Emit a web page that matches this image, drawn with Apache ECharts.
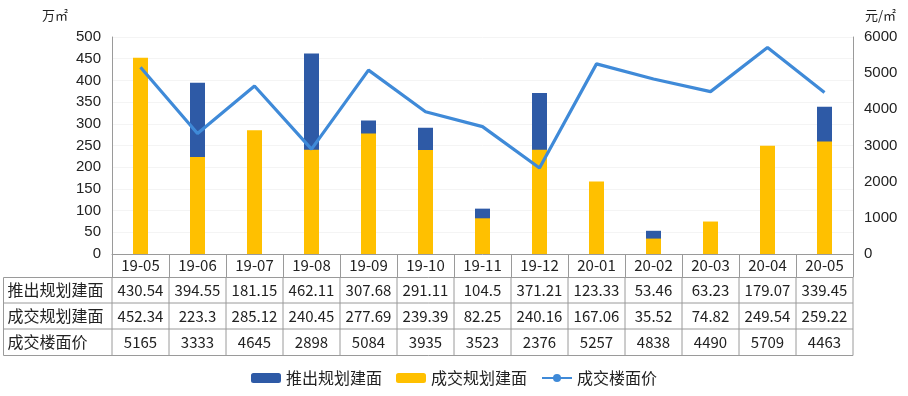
<!DOCTYPE html>
<html><head><meta charset="utf-8">
<script src="https://cdn.jsdelivr.net/npm/echarts@6/dist/echarts.min.js"></script>
<style>html,body{margin:0;padding:0;background:#fff}#c{width:908px;height:396px}</style>
</head><body><div id="c"></div>
<script>
const categories = ['19-05','19-06','19-07','19-08','19-09','19-10','19-11','19-12','20-01','20-02','20-03','20-04','20-05'];
const launched = [430.54,394.55,181.15,462.11,307.68,291.11,104.5,371.21,123.33,53.46,63.23,179.07,339.45];
const launchedText = ['430.54','394.55','181.15','462.11','307.68','291.11','104.5','371.21','123.33','53.46','63.23','179.07','339.45'];
const traded = [452.34,223.3,285.12,240.45,277.69,239.39,82.25,240.16,167.06,35.52,74.82,249.54,259.22];
const tradedText = ['452.34','223.3','285.12','240.45','277.69','239.39','82.25','240.16','167.06','35.52','74.82','249.54','259.22'];
const price = [5165,3333,4645,2898,5084,3935,3523,2376,5257,4838,4490,5709,4463];
const seriesNames = ['推出规划建面','成交规划建面','成交楼面价'];
const leftUnit = '万㎡';
const rightUnit = '元/㎡';

const chart = echarts.init(document.getElementById('c'));
const gridTop = 37, gridBottomY = 254, gridLeft = 112, gridRight = 853;
const rowLines = [277.5, 303, 329, 355.5];
const tableLeft = 3.5;
const lineColor = '#9a9a9a';
const cjk = '"Noto Sans CJK SC", sans-serif';
const sans = '"Liberation Sans", Arial, sans-serif';

chart.setOption({
  animation: false,
  grid: {left: gridLeft, right: 908 - gridRight, top: gridTop, bottom: 396 - gridBottomY, containLabel: false},
  legend: {
    left: 'center', top: 365, itemWidth: 30, itemHeight: 10, itemGap: 14,
    textStyle: {fontFamily: cjk, fontSize: 16, color: '#222'},
    data: seriesNames
  },
  xAxis: {
    type: 'category', data: categories,
    axisLine: {lineStyle: {color: lineColor}},
    axisTick: {show: true, interval: 0, length: 23.5, lineStyle: {color: lineColor}},
    axisLabel: {interval: 0, fontFamily: cjk, fontSize: 15, color: '#222', margin: 4}
  },
  yAxis: [{
    type: 'value', min: 0, max: 500, interval: 50,
    name: leftUnit, nameLocation: 'end', nameGap: 0,
    nameTextStyle: {fontFamily: cjk, fontSize: 13, color: '#222', align: 'right', verticalAlign: 'bottom', padding: [0, 44, 15, 0]},
    axisLine: {show: true, lineStyle: {color: lineColor}},
    axisTick: {show: false},
    axisLabel: {fontFamily: sans, fontSize: 15, color: '#222', margin: 11, formatter: v => String(v)},
    splitLine: {show: true, lineStyle: {color: '#f4f4f4'}}
  }, {
    type: 'value', min: 0, max: 6000, interval: 1000,
    name: rightUnit, nameLocation: 'end', nameGap: 0,
    nameTextStyle: {fontFamily: cjk, fontSize: 13, color: '#222', align: 'left', verticalAlign: 'bottom', padding: [0, 0, 15, 12]},
    axisLine: {show: true, lineStyle: {color: lineColor}},
    axisTick: {show: false},
    axisLabel: {fontFamily: sans, fontSize: 15, color: '#222', margin: 11, formatter: v => String(v)},
    splitLine: {show: false}
  }],
  series: [{
    name: seriesNames[0], type: 'bar', data: launched, barWidth: 15, barGap: '-100%',
    itemStyle: {color: '#2E5AA6'}, z: 2
  }, {
    name: seriesNames[1], type: 'bar', data: traded, barWidth: 15,
    itemStyle: {color: '#FFC000'}, z: 3
  }, {
    name: seriesNames[2], type: 'line', yAxisIndex: 1, data: price,
    symbol: 'circle', symbolSize: 9, showSymbol: false,
    lineStyle: {color: '#3F8AD8', width: 3.2}, itemStyle: {color: '#3F8AD8'}, z: 5
  }]
});

// Data table under the chart
const colW = (gridRight - gridLeft) / categories.length;
const els = [];
const rowsData = [launchedText, tradedText, price.map(String)];
for (let r = 0; r < rowLines.length; r++) {
  els.push({type: 'line', shape: {x1: tableLeft, y1: rowLines[r], x2: gridRight, y2: rowLines[r]}, style: {stroke: lineColor, lineWidth: 1}});
}
els.push({type: 'line', shape: {x1: tableLeft, y1: rowLines[0], x2: tableLeft, y2: rowLines[3]}, style: {stroke: lineColor, lineWidth: 1}});
for (let i = 0; i <= categories.length; i++) {
  const x = gridLeft + i * colW;
  els.push({type: 'line', shape: {x1: x, y1: rowLines[0], x2: x, y2: rowLines[3]}, style: {stroke: lineColor, lineWidth: 1}});
}
for (let r = 0; r < 3; r++) {
  const yc = (rowLines[r] + rowLines[r + 1]) / 2;
  els.push({type: 'text', x: tableLeft + 4, y: yc, style: {text: seriesNames[r], fontFamily: cjk, fontSize: 16, fill: '#222', verticalAlign: 'middle', align: 'left'}});
  rowsData[r].forEach((t, i) => {
    const xc = chart.convertToPixel({xAxisIndex: 0}, i);
    els.push({type: 'text', x: xc, y: yc, style: {text: t, fontFamily: cjk, fontSize: 15, fill: '#222', align: 'center', verticalAlign: 'middle'}});
  });
}
chart.setOption({graphic: {elements: els}});
</script></body></html>
